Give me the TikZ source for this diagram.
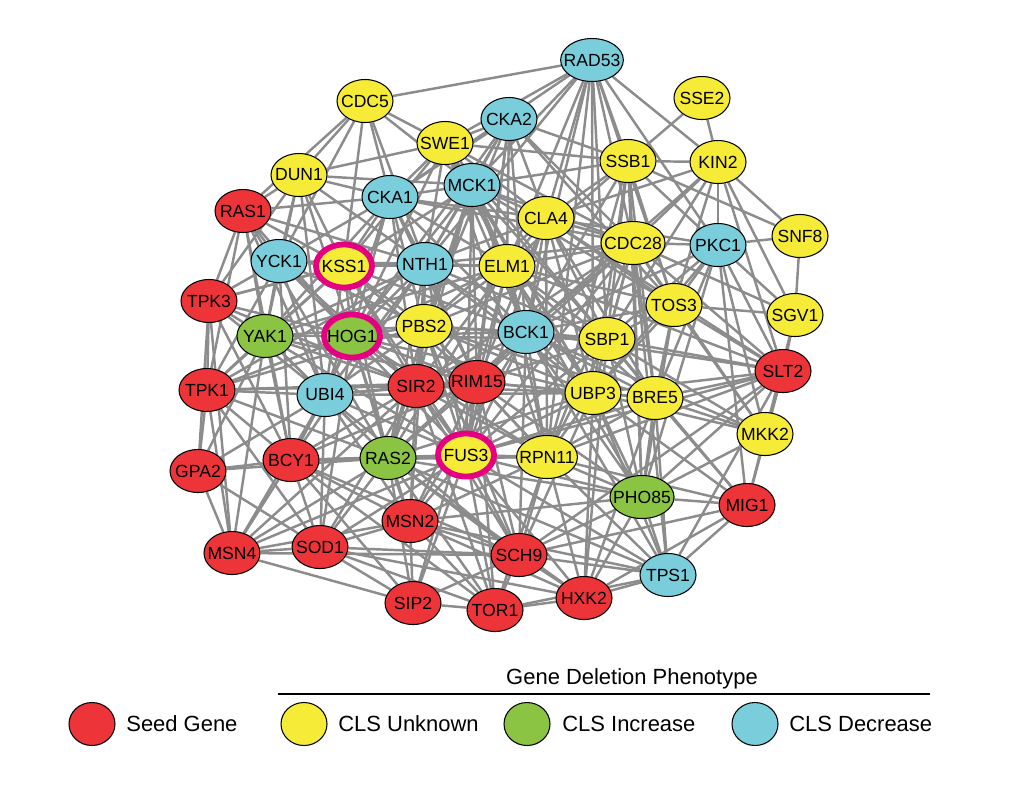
\documentclass[tikz,border=0pt]{standalone}
\usepackage{fontspec}
\setmainfont{Liberation Sans}
\usepackage{tikz}
\usetikzlibrary{shapes,backgrounds}

\definecolor{seedred}{RGB}{237,52,56}
\definecolor{unkyellow}{RGB}{246,236,56}
\definecolor{incgreen}{RGB}{138,196,66}
\definecolor{decblue}{RGB}{122,206,220}
\definecolor{ringpink}{RGB}{228,0,128}
\definecolor{linkgray}{RGB}{140,140,140}

\tikzset{
  gene/.style={ellipse, draw=black, line width=0.6pt, minimum width=1.12cm, minimum height=0.86cm,
    inner xsep=-3.5pt, inner ysep=0pt, font=\fontsize{10}{11}\selectfont},
  seedgene/.style={gene, fill=seedred},
  unkgene/.style={gene, fill=unkyellow},
  incgene/.style={gene, fill=incgreen},
  decgene/.style={gene, fill=decblue},
  hit/.style={draw=ringpink, line width=3.3pt},
  link/.style={draw=linkgray, line width=1.4pt},
  legdot/.style={ellipse, draw=black, line width=0.6pt, minimum width=0.92cm, minimum height=0.86cm, inner sep=0pt},
  legtext/.style={anchor=west, inner sep=0pt, font=\fontsize{12.5}{14}\selectfont}
}

\begin{document}
\begin{tikzpicture}[x=0.02cm, y=-0.02cm]
		\useasboundingbox (0,0) rectangle (1020,789);
		% genes
		\node[decgene] (RAD53) at (592,60) {RAD53};
		\node[unkgene] (SSE2) at (702,98) {SSE2};
		\node[unkgene] (CDC5) at (365,101) {CDC5};
		\node[decgene] (CKA2) at (509,119) {CKA2};
		\node[unkgene] (SWE1) at (445,143) {SWE1};
		\node[unkgene] (SSB1) at (628,161) {SSB1};
		\node[unkgene] (KIN2) at (718,162) {KIN2};
		\node[unkgene] (DUN1) at (299,175) {DUN1};
		\node[decgene] (MCK1) at (472,185) {MCK1};
		\node[decgene] (CKA1) at (390,197) {CKA1};
		\node[seedgene] (RAS1) at (243,211) {RAS1};
		\node[unkgene] (CLA4) at (546,218) {CLA4};
		\node[unkgene] (SNF8) at (800,236) {SNF8};
		\node[unkgene] (CDC28) at (633,243) {CDC28};
		\node[decgene] (PKC1) at (718,245) {PKC1};
		\node[decgene] (YCK1) at (279,261) {YCK1};
		\node[unkgene, hit] (KSS1) at (344,266) {KSS1};
		\node[decgene] (NTH1) at (425,264) {NTH1};
		\node[unkgene] (ELM1) at (507,266) {ELM1};
		\node[seedgene] (TPK3) at (209,301) {TPK3};
		\node[unkgene] (TOS3) at (674,305) {TOS3};
		\node[unkgene] (SGV1) at (795,315) {SGV1};
		\node[incgene] (YAK1) at (265,336) {YAK1};
		\node[incgene, hit] (HOG1) at (352,336) {HOG1};
		\node[unkgene] (PBS2) at (424,326) {PBS2};
		\node[decgene] (BCK1) at (526,332) {BCK1};
		\node[unkgene] (SBP1) at (607,339) {SBP1};
		\node[seedgene] (SLT2) at (783,371) {SLT2};
		\node[seedgene] (TPK1) at (207,390) {TPK1};
		\node[decgene] (UBI4) at (325,395) {UBI4};
		\node[seedgene] (SIR2) at (416,386) {SIR2};
		\node[seedgene] (RIM15) at (477,382) {RIM15};
		\node[unkgene] (UBP3) at (593,393) {UBP3};
		\node[unkgene] (BRE5) at (655,398) {BRE5};
		\node[unkgene] (MKK2) at (765,434) {MKK2};
		\node[seedgene] (GPA2) at (198,471) {GPA2};
		\node[seedgene] (BCY1) at (291,460) {BCY1};
		\node[incgene] (RAS2) at (388,458) {RAS2};
		\node[unkgene, hit] (FUS3) at (466,455) {FUS3};
		\node[unkgene] (RPN11) at (547,457) {RPN11};
		\node[incgene] (PHO85) at (642,497) {PHO85};
		\node[seedgene] (MIG1) at (747,505) {MIG1};
		\node[seedgene] (MSN2) at (410,521) {MSN2};
		\node[seedgene] (MSN4) at (232,553) {MSN4};
		\node[seedgene] (SOD1) at (320,547) {SOD1};
		\node[seedgene] (SCH9) at (519,555) {SCH9};
		\node[decgene] (TPS1) at (668,575) {TPS1};
		\node[seedgene] (HXK2) at (584,598) {HXK2};
		\node[seedgene] (SIP2) at (413,603) {SIP2};
		\node[seedgene] (TOR1) at (495,610) {TOR1};
		%
		\begin{scope}[on background layer]
		\path[link]
		(RAD53) edge (CDC5) edge (SWE1) edge (MCK1) edge (CLA4) edge (ELM1) edge (BCK1) edge (CDC28) edge (SSB1)
		  edge (KIN2) edge (PKC1) edge (TOS3) edge (SBP1) edge (UBP3) edge (RPN11) edge (NTH1) edge (CKA1)
		(SSE2) edge (SSB1) edge (KIN2)
		(CDC5) edge (SWE1) edge (DUN1) edge (RAS1) edge (CKA1) edge (NTH1) edge (MCK1) edge (KSS1) edge (YCK1)
		(CKA2) edge (SWE1) edge (MCK1) edge (CKA1) edge (CLA4) edge (ELM1) edge (SSB1) edge (CDC28) edge (NTH1)
		  edge (BCK1) edge (PBS2) edge (HOG1) edge (FUS3) edge (TOS3) edge (RIM15)
		(SWE1) edge (DUN1) edge (MCK1) edge (CKA1) edge (CLA4) edge (CDC28) edge (SSB1) edge (NTH1) edge (ELM1)
		  edge (KSS1) edge (HOG1) edge (BCK1) edge (SBP1) edge (UBP3) edge (RPN11)
		(SSB1) edge (KIN2) edge (CDC28) edge (CLA4) edge (SNF8) edge (PKC1) edge (TOS3) edge (ELM1) edge (BCK1)
		  edge (SBP1) edge (UBP3) edge (BRE5) edge (PHO85) edge (RPN11) edge (MCK1)
		(KIN2) edge (CDC28) edge (SNF8) edge (PKC1) edge (SLT2) edge (TOS3) edge (SBP1) edge (SGV1) edge (CLA4) edge (BCK1)
		(DUN1) edge (RAS1) edge (MCK1) edge (CKA1) edge (YCK1) edge (KSS1) edge (HOG1) edge (TPK3) edge (YAK1)
		  edge (UBI4) edge (NTH1)
		(MCK1) edge (CKA1) edge (CLA4) edge (NTH1) edge (ELM1) edge (CDC28) edge (BCK1) edge (PBS2) edge (HOG1)
		  edge (KSS1) edge (SBP1) edge (UBP3) edge (SIR2) edge (RIM15) edge (FUS3) edge (RAS2) edge (TOS3)
		(CKA1) edge (RAS1) edge (YCK1) edge (KSS1) edge (NTH1) edge (HOG1) edge (PBS2) edge (ELM1) edge (CLA4)
		  edge (UBI4) edge (SIR2) edge (RIM15) edge (YAK1) edge (BCK1) edge (CDC28)
		(RAS1) edge (YCK1) edge (TPK3) edge (YAK1) edge (TPK1) edge (KSS1) edge (NTH1) edge (BCY1) edge (RAS2)
		  edge (UBI4) edge (HOG1)
		(CLA4) edge (CDC28) edge (ELM1) edge (BCK1) edge (NTH1) edge (SBP1) edge (UBP3) edge (TOS3) edge (PBS2)
		  edge (PKC1) edge (BRE5) edge (RIM15) edge (FUS3) edge (RPN11) edge (SLT2)
		(SNF8) edge (SGV1) edge (PKC1)
		(CDC28) edge (PKC1) edge (TOS3) edge (ELM1) edge (BCK1) edge (SBP1) edge (UBP3) edge (BRE5) edge (PHO85)
		  edge (SLT2) edge (SGV1) edge (RPN11) edge (FUS3) edge (RIM15) edge (SIR2) edge (PBS2) edge (NTH1)
		  edge (TPS1) edge (MKK2)
		(PKC1) edge (TOS3) edge (SLT2) edge (MKK2) edge (SGV1) edge (BCK1) edge (SBP1) edge (BRE5) edge (MIG1)
		  edge (UBP3) edge (PHO85)
		(YCK1) edge (TPK3) edge (YAK1) edge (KSS1) edge (HOG1) edge (UBI4) edge (NTH1) edge (TPK1) edge (BCY1)
		  edge (PBS2) edge (SIR2)
		(KSS1) edge (NTH1) edge (HOG1) edge (PBS2) edge (YAK1) edge (UBI4) edge (ELM1) edge (BCK1) edge (SIR2)
		  edge (FUS3) edge (RAS2) edge (TPK3) edge (TPK1) edge (RIM15)
		(NTH1) edge (ELM1) edge (PBS2) edge (HOG1) edge (BCK1) edge (SIR2) edge (RIM15) edge (UBI4) edge (SBP1)
		  edge (UBP3) edge (TPK1) edge (YAK1) edge (FUS3) edge (RAS2) edge (BCY1)
		(ELM1) edge (BCK1) edge (PBS2) edge (SBP1) edge (UBP3) edge (TOS3) edge (RIM15) edge (FUS3) edge (RPN11)
		  edge (SIR2) edge (HOG1) edge (BRE5) edge (PHO85) edge (SLT2) edge (RAS2)
		(TPK3) edge (TPK1) edge (YAK1) edge (GPA2) edge (BCY1) edge (MSN4) edge (HOG1) edge (UBI4) edge (SIR2) edge (KSS1)
		(TOS3) edge (SBP1) edge (BRE5) edge (SLT2) edge (SGV1) edge (UBP3) edge (BCK1) edge (PHO85) edge (MKK2)
		(SGV1) edge (SLT2) edge (MKK2)
		(YAK1) edge (TPK1) edge (HOG1) edge (UBI4) edge (BCY1) edge (GPA2) edge (MSN4) edge (RAS2) edge (SIR2)
		  edge (PBS2) edge (ELM1) edge (RIM15) edge (FUS3)
		(HOG1) edge (PBS2) edge (UBI4) edge (SIR2) edge (RIM15) edge (BCK1) edge (FUS3) edge (RAS2) edge (BCY1)
		  edge (TPK1) edge (MSN2) edge (SBP1) edge (UBP3) edge (RPN11) edge (SOD1)
		(PBS2) edge (BCK1) edge (SIR2) edge (RIM15) edge (UBI4) edge (FUS3) edge (RAS2) edge (SBP1) edge (UBP3)
		  edge (RPN11) edge (MSN2) edge (BRE5) edge (TPK1) edge (SCH9)
		(BCK1) edge (SBP1) edge (UBP3) edge (BRE5) edge (RIM15) edge (SIR2) edge (FUS3) edge (RPN11) edge (PHO85)
		  edge (SLT2) edge (MKK2) edge (RAS2) edge (MSN2) edge (SCH9) edge (TPS1)
		(SBP1) edge (UBP3) edge (BRE5) edge (SLT2) edge (RPN11) edge (PHO85) edge (MKK2) edge (FUS3) edge (RIM15)
		  edge (HXK2) edge (MIG1)
		(SLT2) edge (MKK2) edge (BRE5) edge (UBP3) edge (PHO85) edge (MIG1) edge (RPN11) edge (FUS3) edge (TPS1) edge (SCH9)
		(TPK1) edge (GPA2) edge (UBI4) edge (BCY1) edge (MSN4) edge (SIR2) edge (RAS2) edge (RIM15) edge (SOD1)
		(UBI4) edge (SIR2) edge (RIM15) edge (BCY1) edge (RAS2) edge (FUS3) edge (MSN2) edge (MSN4) edge (SOD1)
		  edge (UBP3) edge (GPA2) edge (SCH9)
		(SIR2) edge (RIM15) edge (RAS2) edge (FUS3) edge (BCY1) edge (MSN2) edge (UBP3) edge (RPN11) edge (SCH9)
		  edge (SOD1) edge (MSN4) edge (TOR1)
		(RIM15) edge (UBP3) edge (FUS3) edge (RAS2) edge (RPN11) edge (MSN2) edge (SCH9) edge (BRE5) edge (PHO85)
		  edge (BCY1) edge (TOR1) edge (SIP2)
		(UBP3) edge (BRE5) edge (RPN11) edge (PHO85) edge (FUS3) edge (MKK2) edge (MIG1) edge (TPS1) edge (SCH9)
		  edge (HXK2) edge (RAS2)
		(BRE5) edge (MKK2) edge (PHO85) edge (RPN11) edge (MIG1) edge (TPS1) edge (HXK2) edge (FUS3)
		(MKK2) edge (MIG1) edge (PHO85)
		(GPA2) edge (BCY1) edge (MSN4) edge (RAS2) edge (SOD1)
		(BCY1) edge (RAS2) edge (MSN4) edge (SOD1) edge (MSN2) edge (FUS3) edge (SCH9) edge (TOR1) edge (SIP2) edge (RPN11)
		(RAS2) edge (FUS3) edge (MSN2) edge (SOD1) edge (MSN4) edge (SCH9) edge (TOR1) edge (SIP2) edge (RPN11)
		  edge (HXK2) edge (PHO85) edge (TPS1)
		(FUS3) edge (RPN11) edge (MSN2) edge (SCH9) edge (TOR1) edge (PHO85) edge (SOD1) edge (MSN4) edge (HXK2)
		  edge (TPS1) edge (SIP2)
		(RPN11) edge (PHO85) edge (SCH9) edge (TPS1) edge (HXK2) edge (MSN2) edge (TOR1) edge (MIG1)
		(PHO85) edge (MIG1) edge (TPS1) edge (HXK2) edge (SCH9) edge (MSN2)
		(MIG1) edge (TPS1) edge (HXK2) edge (SCH9)
		(MSN2) edge (MSN4) edge (SOD1) edge (SCH9) edge (SIP2) edge (TOR1) edge (HXK2) edge (TPS1)
		(MSN4) edge (SOD1) edge (SIP2) edge (SCH9)
		(SOD1) edge (SCH9) edge (SIP2) edge (TOR1) edge (HXK2)
		(SCH9) edge (TOR1) edge (HXK2) edge (TPS1) edge (SIP2)
		(TPS1) edge (HXK2) edge (TOR1)
		(HXK2) edge (TOR1)
		(SIP2) edge (TOR1);
		\end{scope}
		% legend
		\node[font=\fontsize{12.5}{14}\selectfont] (phenotitle) at (632,679) {Gene Deletion Phenotype};
		\coordinate (ruleL) at (278,694);
		\coordinate (ruleR) at (930,694);
		\draw[line width=1.1pt] (ruleL) -- (ruleR);
		\node[legdot, fill=seedred] (legseed) at (92,724) {};
		\node[legdot, fill=unkyellow] (legunk) at (304,724) {};
		\node[legdot, fill=incgreen] (leginc) at (527,724) {};
		\node[legdot, fill=decblue] (legdec) at (755,724) {};
		\node[legtext] (legseedtxt) at (126,724) {Seed Gene};
		\node[legtext] (legunktxt) at (338,724) {CLS Unknown};
		\node[legtext] (leginctxt) at (562,724) {CLS Increase};
		\node[legtext] (legdectxt) at (789,724) {CLS Decrease};
\end{tikzpicture}
\end{document}
